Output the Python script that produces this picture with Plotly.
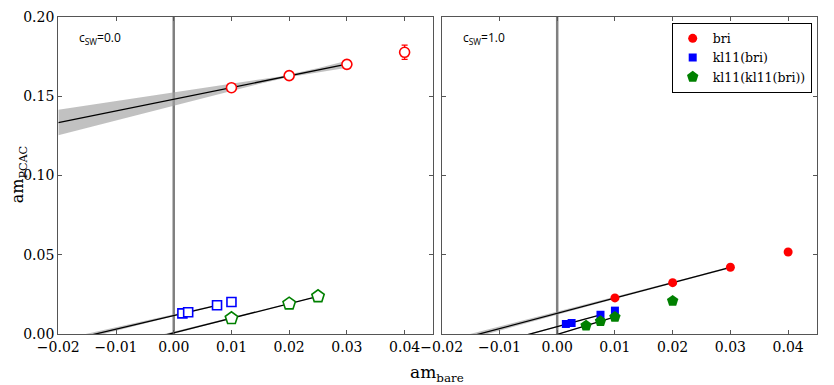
import numpy as np
import plotly.graph_objects as go

# ---------------- data ----------------
# c_SW = 0.0 (left panel, open symbols)
bri0_x = [0.01, 0.02, 0.03, 0.04]
bri0_y = [0.1553, 0.1629, 0.1700, 0.1776]
bri0_e = [0.0015, 0.0012, 0.0012, 0.0045]

kl0_x = [0.0015, 0.0025, 0.0075, 0.010]
kl0_y = [0.0132, 0.0139, 0.0183, 0.0203]
kl0_e = [0.0005, 0.0005, 0.0005, 0.0005]

kk0_x = [0.010, 0.020, 0.025]
kk0_y = [0.0101, 0.0193, 0.0239]
kk0_e = [0.0005, 0.0005, 0.0005]

# c_SW = 1.0 (right panel, filled symbols)
bri1_x = [0.01, 0.02, 0.03, 0.04]
bri1_y = [0.0229, 0.0325, 0.0422, 0.0518]
bri1_e = [0.0005, 0.0005, 0.0005, 0.0005]

kl1_x = [0.0015, 0.0025, 0.0075, 0.010]
kl1_y = [0.0065, 0.0071, 0.0123, 0.0149]
kl1_e = [0.0004, 0.0004, 0.0004, 0.0004]

kk1_x = [0.005, 0.0075, 0.010, 0.020]
kk1_y = [0.0054, 0.0082, 0.0109, 0.0210]
kk1_e = [0.0004, 0.0004, 0.0004, 0.0004]

# number of points used in each linear fit, and band parameters (e0, slope-error)
fit_npts = {"bri0": 3, "kl0": 3, "kk0": 3, "bri1": 3, "kl1": 3, "kk1": 3}
fit_band = {"bri0": (0.0008, 0.20), "kl0": (0.0003, 0.07), "kk0": (0.0002, 0.03),
            "bri1": (0.0004, 0.04), "kl1": (0.0002, 0.03), "kk1": (0.0002, 0.02)}

x_ticks = [-0.02, -0.01, 0.0, 0.01, 0.02, 0.03, 0.04]
y_ticks = [0.0, 0.05, 0.10, 0.15, 0.20]
x_range = [-0.02, 0.045]
y_range = [0.0, 0.20]

FONT = "DejaVu Serif"
RED, BLUE, GREEN = "#ff0000", "#0000ff", "#008000"

fig = go.Figure()


def add_fit(name, xs, ys, xa, ya):
    n = fit_npts[name]
    xf = np.array(xs[:n]); yf = np.array(ys[:n])
    slope, icpt = np.polyfit(xf, yf, 1)
    xm = xf.mean()
    e0, es = fit_band[name]
    xx = np.linspace(x_range[0], xf.max(), 60)
    yy = icpt + slope * xx
    hw = np.sqrt(e0 ** 2 + (es * (xx - xm)) ** 2)
    fig.add_trace(go.Scatter(x=np.concatenate([xx, xx[::-1]]),
                             y=np.concatenate([yy + hw, (yy - hw)[::-1]]),
                             fill="toself", fillcolor="rgba(160,160,160,0.65)",
                             line=dict(width=0), mode="lines", hoverinfo="skip",
                             showlegend=False, xaxis=xa, yaxis=ya))
    fig.add_trace(go.Scatter(x=xx, y=yy, mode="lines", line=dict(color="black", width=1.3),
                             showlegend=False, hoverinfo="skip", xaxis=xa, yaxis=ya))


def add_pts(xs, ys, es, color, symbol, size, filled, xa, ya, name=None):
    fig.add_trace(go.Scatter(
        x=xs, y=ys, mode="markers", name=name, showlegend=name is not None,
        error_y=dict(type="data", array=es, color=color, thickness=1.3, width=3),
        marker=dict(symbol=symbol, size=size,
                    color=color if filled else "white",
                    line=dict(color=color, width=0 if filled else 1.6)),
        xaxis=xa, yaxis=ya, cliponaxis=False))


# left panel
add_fit("bri0", bri0_x, bri0_y, "x", "y")
add_fit("kl0", kl0_x, kl0_y, "x", "y")
add_fit("kk0", kk0_x, kk0_y, "x", "y")
add_pts(bri0_x, bri0_y, bri0_e, RED, "circle", 10, False, "x", "y")
add_pts(kl0_x, kl0_y, kl0_e, BLUE, "square", 9, False, "x", "y")
add_pts(kk0_x, kk0_y, kk0_e, GREEN, "pentagon", 13, False, "x", "y")

# right panel
add_fit("bri1", bri1_x, bri1_y, "x2", "y2")
add_fit("kl1", kl1_x, kl1_y, "x2", "y2")
add_fit("kk1", kk1_x, kk1_y, "x2", "y2")
add_pts(bri1_x, bri1_y, bri1_e, RED, "circle", 9, True, "x2", "y2", "bri")
add_pts(kl1_x, kl1_y, kl1_e, BLUE, "square", 8, True, "x2", "y2", "kl11(bri)")
add_pts(kk1_x, kk1_y, kk1_e, GREEN, "pentagon", 12, True, "x2", "y2", "kl11(kl11(bri))")

axis_common = dict(showgrid=False, zeroline=False, showline=True, linecolor="#555555",
                   linewidth=1.3, mirror="ticks", ticks="inside", ticklen=4,
                   tickcolor="#555555", automargin=False,
                   tickfont=dict(family=FONT, size=14, color="black"))

# the page has an 8px body margin, so the figure is 826x377 and placed accordingly
fig.update_layout(
    width=826, height=377, margin=dict(l=0, r=0, t=0, b=0, autoexpand=False),
    paper_bgcolor="white", plot_bgcolor="white",
    xaxis=dict(domain=[0.0609, 0.5151], range=x_range, tickvals=x_ticks,
               tickformat=".2f", anchor="y", **axis_common),
    yaxis=dict(domain=[0.1345, 0.9769], range=y_range, tickvals=y_ticks,
               tickformat=".2f", anchor="x", **axis_common),
    xaxis2=dict(domain=[0.5251, 0.9794], range=x_range, tickvals=x_ticks,
                tickformat=".2f", anchor="y2", **axis_common),
    yaxis2=dict(domain=[0.1345, 0.9769], range=y_range, tickvals=y_ticks,
                showticklabels=False, anchor="x2", **axis_common),
    legend=dict(x=(811.7 - 8) / 826, y=(377 - (22.7 - 8)) / 377, xanchor="right", yanchor="top",
                bordercolor="black", borderwidth=1, bgcolor="white",
                font=dict(family=FONT, size=12.5, color="black"),
                tracegroupgap=0, itemsizing="trace", itemwidth=30),
    showlegend=True,
)

for xr, yr in (("x", "y domain"), ("x2", "y2 domain")):
    fig.add_shape(type="line", xref=xr, yref=yr, x0=0, x1=0, y0=0, y1=1,
                  line=dict(color="#808080", width=2.5), layer="below")

fig.add_annotation(x=0.0839, y=0.921, xref="paper", yref="paper", xanchor="left", yanchor="middle",
                   text="c<sub>SW</sub>=0.0", showarrow=False,
                   font=dict(family="Open Sans", size=12, color="black"))
fig.add_annotation(x=0.548, y=0.921, xref="paper", yref="paper", xanchor="left", yanchor="middle",
                   text="c<sub>SW</sub>=1.0", showarrow=False,
                   font=dict(family="Open Sans", size=12, color="black"))
fig.add_annotation(x=0.519, y=0.03, xref="paper", yref="paper", xanchor="center", yanchor="middle",
                   text="am<sub>bare</sub>", showarrow=False,
                   font=dict(family=FONT, size=17, color="black"))
fig.add_annotation(x=0.0125, y=0.557, xref="paper", yref="paper", xanchor="center", yanchor="middle",
                   text="am<sub>PCAC</sub>", showarrow=False, textangle=-90,
                   font=dict(family=FONT, size=16, color="black"))

fig.write_html("out.html")
